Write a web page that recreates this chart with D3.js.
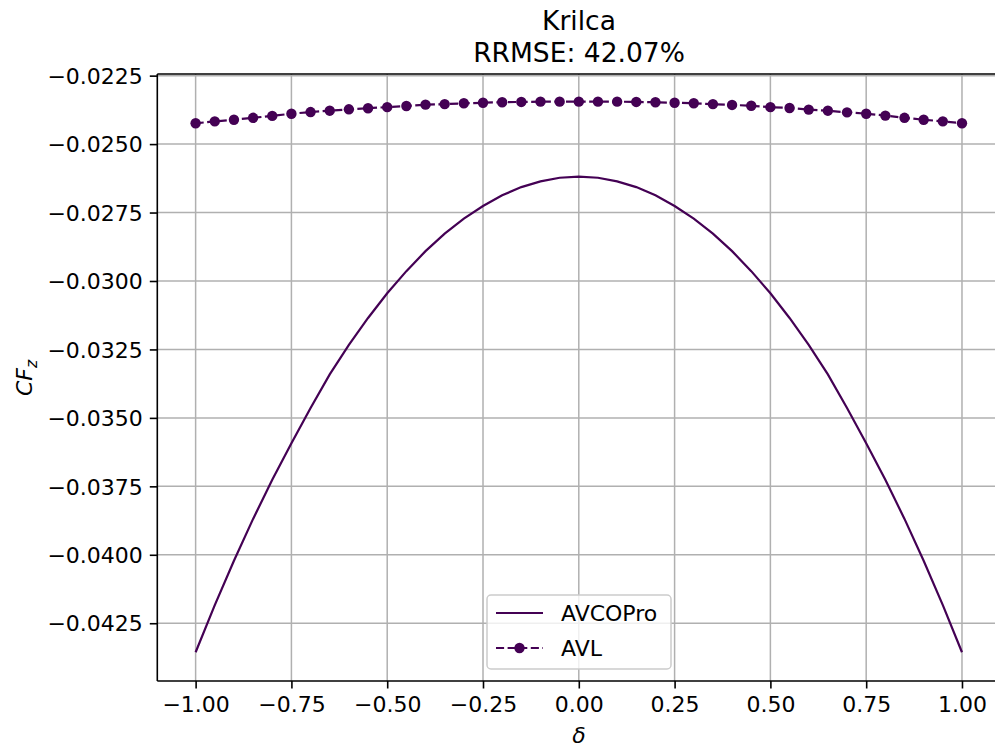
<!DOCTYPE html>
<html>
<head>
<meta charset="utf-8">
<script src="https://cdn.jsdelivr.net/npm/d3@7"></script>
<style>
  html, body { margin: 0; padding: 0; background: #fff; }
  svg { display: block; font-family: "DejaVu Sans", sans-serif; }
</style>
</head>
<body>
<svg id="chart" width="995" height="749"></svg>
<script>
// ---- data ----
const delta = [-1.00,-0.95,-0.90,-0.85,-0.80,-0.75,-0.70,-0.65,-0.60,-0.55,-0.50,-0.45,-0.40,-0.35,-0.30,-0.25,-0.20,-0.15,-0.10,-0.05,0.00,0.05,0.10,0.15,0.20,0.25,0.30,0.35,0.40,0.45,0.50,0.55,0.60,0.65,0.70,0.75,0.80,0.85,0.90,0.95,1.00];
const avcopro = [-0.04356,-0.04184,-0.04022,-0.03869,-0.03726,-0.03593,-0.03464,-0.03341,-0.03233,-0.03135,-0.03045,-0.02964,-0.02891,-0.02827,-0.02772,-0.02726,-0.02687,-0.02657,-0.02636,-0.02623,-0.02619,-0.02623,-0.02636,-0.02657,-0.02687,-0.02726,-0.02772,-0.02827,-0.02891,-0.02964,-0.03045,-0.03135,-0.03233,-0.03341,-0.03464,-0.03593,-0.03726,-0.03869,-0.04022,-0.04184,-0.04356];
const avl = [-0.02424,-0.02417,-0.02411,-0.02404,-0.02397,-0.02389,-0.02383,-0.02378,-0.02373,-0.02369,-0.02365,-0.02361,-0.02356,-0.02354,-0.02351,-0.02349,-0.02347,-0.02346,-0.02345,-0.02345,-0.02345,-0.02345,-0.02345,-0.02346,-0.02347,-0.02349,-0.02351,-0.02354,-0.02357,-0.02360,-0.02365,-0.02368,-0.02374,-0.02378,-0.02384,-0.02389,-0.02396,-0.02404,-0.02411,-0.02417,-0.02424];
const xTicks = [-1.00,-0.75,-0.50,-0.25,0.00,0.25,0.50,0.75,1.00];
const yTicks = [-0.0425,-0.0400,-0.0375,-0.0350,-0.0325,-0.0300,-0.0275,-0.0250,-0.0225];
const seriesNames = ["AVCOPro", "AVL"];
const titleLines = ["Krilca", "RRMSE: 42.07%"];

// ---- layout ----
const color = "#440154";
const L = 157.3, R = 1000.3, T = 74, B = 681;
const svg = d3.select("#chart");
const x = d3.scaleLinear().domain([-1.1, 1.1]).range([L, R]);
const y = d3.scaleLinear().domain([-0.04461, -0.02244]).range([B, T]);
const minus = s => s.replace("-", "\u2212");
const fx = d3.format(".2f"), fy = d3.format(".4f");

// grid
const grid = svg.append("g");
grid.selectAll("line.gx").data(xTicks).join("line")
  .attr("x1", d => x(d)).attr("x2", d => x(d)).attr("y1", T).attr("y2", B)
  .attr("stroke", "#b0b0b0").attr("stroke-width", 1.5);
grid.selectAll("line.gy").data(yTicks).join("line")
  .attr("x1", L).attr("x2", R).attr("y1", d => y(d)).attr("y2", d => y(d))
  .attr("stroke", "#b0b0b0").attr("stroke-width", 1.5);

// clip
svg.append("clipPath").attr("id", "clip").append("rect")
  .attr("x", L).attr("y", T).attr("width", R - L).attr("height", B - T);

const plot = svg.append("g").attr("clip-path", "url(#clip)");
const lineGen = d3.line().x(d => x(d[0])).y(d => y(d[1]));

plot.append("path").datum(delta.map((d, i) => [d, avcopro[i]]))
  .attr("d", lineGen).attr("fill", "none").attr("stroke", color).attr("stroke-width", 2.2);

const avlData = delta.map((d, i) => [d, avl[i]]);
plot.append("path").datum(avlData)
  .attr("d", lineGen).attr("fill", "none").attr("stroke", color).attr("stroke-width", 2.2)
  .attr("stroke-dasharray", "8.1,3.5");
plot.selectAll("circle.avl").data(avlData).join("circle")
  .attr("cx", d => x(d[0])).attr("cy", d => y(d[1])).attr("r", 5.2).attr("fill", color);

// axes
const xAxis = d3.axisBottom(x).tickValues(xTicks).tickFormat(d => minus(fx(d))).tickSize(7.5).tickPadding(6);
const yAxis = d3.axisLeft(y).tickValues(yTicks).tickFormat(d => minus(fy(d))).tickSize(7.5).tickPadding(7);
const gx = svg.append("g").attr("transform", `translate(0,${B})`).call(xAxis);
const gy = svg.append("g").attr("transform", `translate(${L},0)`).call(yAxis);
[gx, gy].forEach(g => {
  g.select(".domain").remove();
  g.selectAll(".tick line").attr("stroke", "#000").attr("stroke-width", 1.6);
  g.selectAll(".tick text").attr("fill", "#000").attr("font-size", 22).attr("font-family", "DejaVu Sans");
});
gx.selectAll(".tick text").attr("dy", "0.78em");
gy.selectAll(".tick text").attr("dy", "0.35em");

// spines (left, top, bottom; right lies outside the picture)
svg.append("line").attr("x1", L).attr("x2", L).attr("y1", T).attr("y2", B).attr("stroke", "#000").attr("stroke-width", 1.6);
svg.append("line").attr("x1", L).attr("x2", R).attr("y1", T).attr("y2", T).attr("stroke", "#000").attr("stroke-width", 1.6);
svg.append("line").attr("x1", L).attr("x2", R).attr("y1", B).attr("y2", B).attr("stroke", "#000").attr("stroke-width", 1.6);
svg.append("line").attr("x1", R).attr("x2", R).attr("y1", T).attr("y2", B).attr("stroke", "#000").attr("stroke-width", 1.6);

// title
svg.selectAll("text.title").data(titleLines).join("text")
  .attr("x", 579).attr("y", (d, i) => 30 + i * 31.5)
  .attr("text-anchor", "middle").attr("font-size", 26.5).attr("fill", "#000").text(d => d);

// axis labels
svg.append("text").attr("x", 579).attr("y", 743).attr("text-anchor", "middle")
  .attr("font-size", 22).attr("font-style", "italic").text("\u03b4");
const yl = svg.append("text").attr("transform", "translate(32,378) rotate(-90)")
  .attr("text-anchor", "middle").attr("font-size", 22).attr("font-style", "italic");
yl.append("tspan").text("CF");
yl.append("tspan").attr("font-size", 15.5).attr("dy", 5).text("z");

// legend
const lg = svg.append("g");
lg.append("rect").attr("x", 487).attr("y", 595).attr("width", 184).attr("height", 74).attr("rx", 4)
  .attr("fill", "#fff").attr("fill-opacity", 0.8).attr("stroke", "#cccccc").attr("stroke-width", 1.5);
const ly = [613, 648];
lg.append("line").attr("x1", 496).attr("x2", 543).attr("y1", ly[0]).attr("y2", ly[0])
  .attr("stroke", color).attr("stroke-width", 2.2);
lg.append("line").attr("x1", 496).attr("x2", 543).attr("y1", ly[1]).attr("y2", ly[1])
  .attr("stroke", color).attr("stroke-width", 2.2).attr("stroke-dasharray", "8.1,3.5");
lg.append("circle").attr("cx", 519.5).attr("cy", ly[1]).attr("r", 5.2).attr("fill", color);
lg.selectAll("text").data(seriesNames).join("text")
  .attr("x", 561).attr("y", (d, i) => ly[i]).attr("dy", "0.36em")
  .attr("font-size", 22).attr("fill", "#000").text(d => d);
</script>
</body>
</html>
